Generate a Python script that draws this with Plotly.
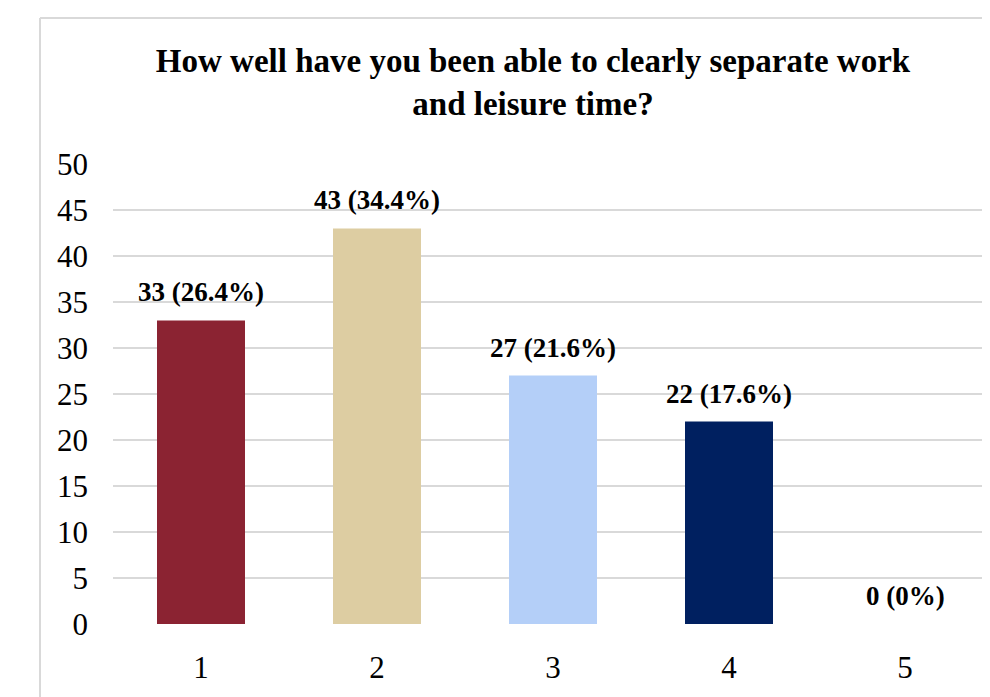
import plotly.graph_objects as go

categories = [1, 2, 3, 4, 5]
counts = [33, 43, 27, 22, 0]
percents = ["26.4%", "34.4%", "21.6%", "17.6%", "0%"]
colors = ["#8B2332", "#DDCDA2", "#B4CFF8", "#002060", "#FFFFFF"]
y_ticks = [0, 5, 10, 15, 20, 25, 30, 35, 40, 45, 50]

W, H = 990, 697
L, R, T, B = 105, 8, 156, 81
pw = W - L - R
ph = H - T - B

fig = go.Figure()

fig.add_trace(go.Bar(
    x=categories,
    y=counts,
    marker=dict(color=colors, line=dict(width=0)),
    width=0.5,
    showlegend=False,
    hoverinfo='skip'
))

for c, v, p in zip(categories, counts, percents):
    fig.add_annotation(
        x=c, y=v,
        text=f"<b>{v} ({p})</b>",
        showarrow=False,
        yanchor='bottom',
        yshift=11,
        font=dict(family="Liberation Serif", size=27, color="black")
    )

# outer frame (left and top edges)
def px_x(px):
    return (px - L) / pw

def px_y(py):
    return (H - B - py) / ph

fig.add_shape(type="line", xref="paper", yref="paper",
              x0=px_x(32), x1=px_x(32), y0=px_y(10), y1=px_y(H + 5),
              line=dict(color="#d9d9d9", width=2))
fig.add_shape(type="line", xref="paper", yref="paper",
              x0=px_x(32), x1=px_x(W + 5), y0=px_y(10), y1=px_y(10),
              line=dict(color="#d9d9d9", width=2))

fig.update_layout(
    width=W, height=H,
    margin=dict(l=L, r=R, t=T, b=B, autoexpand=False),
    paper_bgcolor="white",
    plot_bgcolor="white",
    title=dict(
        text="<b>How well have you been able to clearly separate work<br>and leisure time?</b>",
        x=525 / W, xanchor='center',
        y=1 - 64 / H, yanchor='top',
        font=dict(family="Liberation Serif", size=33, color="black")
    ),
    font=dict(family="Liberation Serif", size=31, color="black"),
    bargap=0.5,
)

fig.update_xaxes(
    range=[0.5, 0.5 + pw / 176],
    tickvals=categories,
    ticktext=[str(c) for c in categories],
    showgrid=False,
    zeroline=False,
    showline=False,
    ticks="",
    ticklabelstandoff=22,
    tickfont=dict(family="Liberation Serif", size=31, color="black")
)

fig.update_yaxes(
    range=[0, 50],
    tickvals=y_ticks,
    showgrid=True,
    gridcolor="#d9d9d9",
    gridwidth=2,
    zeroline=False,
    showline=False,
    ticks="",
    ticklabelstandoff=24,
    tickfont=dict(family="Liberation Serif", size=31, color="black")
)

fig.write_html("out.html")
